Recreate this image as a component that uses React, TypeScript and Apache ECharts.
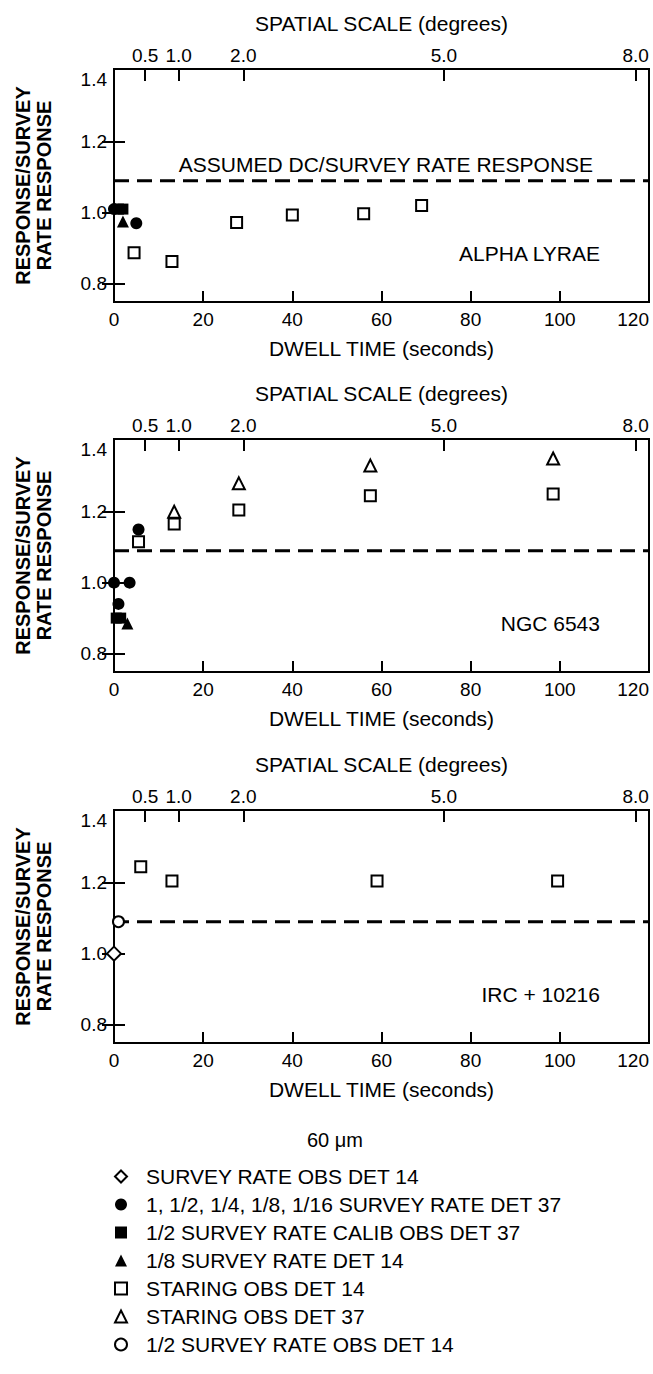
import React, { useEffect, useRef } from "react";
import * as echarts from "echarts";

// ---- axes / tick data ----
const dwellMin = 0;
const dwellMax = 120;
const dwellInterval = 20;
const spatialLabels = ["0.5", "1.0", "2.0", "5.0", "8.0"];
const spatialAtDwell = [7, 14.5, 29, 74, 117];
const yTickMarks = [0.8, 1.0, 1.2];
const yTickLabels = [0.8, 1.0, 1.2, 1.4];
const yMin = 0.748;
const yMax = 1.405;
const assumedLevel = 1.09;

// ---- legend names ----
const legendTitle = "60 μm";
const legendNames = [
  "SURVEY RATE OBS DET 14",
  "1, 1/2, 1/4, 1/8, 1/16 SURVEY RATE DET 37",
  "1/2 SURVEY RATE CALIB OBS DET 37",
  "1/8 SURVEY RATE DET 14",
  "STARING OBS DET 14",
  "STARING OBS DET 37",
  "1/2 SURVEY RATE OBS DET 14",
];

// ---- panel 1: ALPHA LYRAE ----
const p1FilledCircle = [[0, 1.01], [5, 0.97]];
const p1FilledSquare = [[1, 1.01], [2, 1.01]];
const p1FilledTriangle = [[2, 0.975]];
const p1OpenSquare = [[4.5, 0.887], [13, 0.862], [27.5, 0.972], [40, 0.993], [56, 0.997], [69, 1.02]];

// ---- panel 2: NGC 6543 ----
const p2FilledCircle = [[0, 1.0], [3.5, 1.0], [1, 0.94], [5.5, 1.15]];
const p2FilledSquare = [[0.5, 0.9], [1.5, 0.9]];
const p2FilledTriangle = [[3, 0.885]];
const p2OpenSquare = [[5.5, 1.115], [13.5, 1.165], [28, 1.205], [57.5, 1.245], [98.5, 1.25]];
const p2OpenTriangle = [[13.5, 1.2], [28, 1.28], [57.5, 1.33], [98.5, 1.35]];

// ---- panel 3: IRC + 10216 ----
const p3OpenDiamond = [[0, 1.0]];
const p3OpenCircle = [[1, 1.09]];
const p3OpenSquare = [[6, 1.245], [13, 1.205], [59, 1.205], [99.5, 1.205]];

const panelNames = ["ALPHA LYRAE", "NGC 6543", "IRC + 10216"];
const panelNamePos = [[109, 0.885], [109, 0.885], [109, 0.885]];
const assumedText = "ASSUMED DC/SURVEY RATE RESPONSE";
const assumedTextPos = [61, 1.137];

const FONT = "'Liberation Sans', Arial, Helvetica, sans-serif";

const styles: Record<string, any> = {
  [legendNames[0]]: { symbol: "diamond", size: 14, open: true },
  [legendNames[1]]: { symbol: "circle", size: 12, open: false },
  [legendNames[2]]: { symbol: "rect", size: 11, open: false },
  [legendNames[3]]: { symbol: "triangle", size: 12, open: false },
  [legendNames[4]]: { symbol: "rect", size: 11, open: true },
  [legendNames[5]]: { symbol: "triangle", size: 12, open: true },
  [legendNames[6]]: { symbol: "circle", size: 11, open: true },
};

const panelData: Array<Array<[string, number[][]]>> = [
  [
    [legendNames[4], p1OpenSquare],
    [legendNames[2], p1FilledSquare],
    [legendNames[3], p1FilledTriangle],
    [legendNames[1], p1FilledCircle],
  ],
  [
    [legendNames[4], p2OpenSquare],
    [legendNames[5], p2OpenTriangle],
    [legendNames[2], p2FilledSquare],
    [legendNames[3], p2FilledTriangle],
    [legendNames[1], p2FilledCircle],
  ],
  [
    [legendNames[4], p3OpenSquare],
    [legendNames[0], p3OpenDiamond],
    [legendNames[6], p3OpenCircle],
  ],
];

const gridRects = [
  { left: 114, top: 69, width: 535, height: 233 },
  { left: 114, top: 439, width: 535, height: 233 },
  { left: 114, top: 810, width: 535, height: 233 },
];

export default function App() {
  const ref = useRef<HTMLDivElement>(null);
  useEffect(() => {
    if (!ref.current) return;
    const chart = echarts.init(ref.current, null, { renderer: "svg" });
    const txt = { color: "#000", fontFamily: FONT, fontSize: 19 };
    const nameTxt = { color: "#000", fontFamily: FONT, fontSize: 21 };
    const grid = gridRects.map((g) => ({
      ...g,
      show: true,
      borderColor: "#000",
      borderWidth: 2,
      backgroundColor: "transparent",
      containLabel: false,
    }));
    const xAxis: any[] = [];
    const yAxis: any[] = [];
    gridRects.forEach((_, i) => {
      xAxis.push({
        gridIndex: i,
        type: "value",
        min: dwellMin,
        max: dwellMax,
        interval: dwellInterval,
        position: "bottom",
        axisLine: { show: false },
        axisTick: { inside: true, length: 11, lineStyle: { color: "#000", width: 2 } },
        splitLine: { show: false },
        axisLabel: { ...txt, margin: 8, alignMaxLabel: "right" },
        name: "DWELL TIME (seconds)",
        nameLocation: "middle",
        nameGap: 36,
        nameTextStyle: { ...nameTxt },
      });
      xAxis.push({
        gridIndex: i,
        type: "value",
        min: dwellMin,
        max: dwellMax,
        position: "top",
        axisLine: { show: false },
        axisTick: { inside: true, length: 12, customValues: spatialAtDwell, lineStyle: { color: "#000", width: 2 } },
        splitLine: { show: false },
        axisLabel: {
          ...txt,
          margin: 4,
          customValues: spatialAtDwell,
          formatter: (v: number) => {
            const k = spatialAtDwell.findIndex((d) => Math.abs(d - v) < 1e-6);
            return k >= 0 ? spatialLabels[k] : "";
          },
        },
        name: "SPATIAL SCALE (degrees)",
        nameLocation: "middle",
        nameGap: 35,
        nameTextStyle: { ...nameTxt },
      });
      yAxis.push({
        gridIndex: i,
        type: "value",
        min: yMin,
        max: yMax,
        position: "left",
        axisLine: { show: false },
        axisTick: { inside: true, length: 11, customValues: yTickMarks, lineStyle: { color: "#000", width: 2 } },
        splitLine: { show: false },
        axisLabel: {
          ...txt,
          margin: 7,
          customValues: yTickLabels,
          formatter: (v: number) => (v > 1.3 ? "{top|" + v.toFixed(1) + "}" : v.toFixed(1)),
          rich: { top: { ...txt, padding: [18, 0, 0, 0] } },
        },
        name: "RESPONSE/SURVEY\nRATE RESPONSE",
        nameLocation: "middle",
        nameRotate: 90,
        nameGap: 60,
        nameTextStyle: { ...nameTxt, fontSize: 20, fontWeight: "bold", lineHeight: 21 },
      });
      yAxis.push({
        gridIndex: i,
        type: "value",
        min: yMin,
        max: yMax,
        position: "right",
        axisLine: { show: false },
        axisTick: { inside: true, length: 12, customValues: yTickMarks, lineStyle: { color: "#000", width: 2 } },
        splitLine: { show: false },
        axisLabel: { show: false },
      });
    });

    const series: any[] = [];
    panelData.forEach((list, i) => {
      series.push({
        type: "line",
        xAxisIndex: i * 2,
        yAxisIndex: i * 2,
        data: [[dwellMin, assumedLevel], [dwellMax, assumedLevel]],
        symbol: "none",
        silent: true,
        lineStyle: { color: "#000", width: 3, type: [15, 8] },
        z: 1,
      });
      list.forEach(([name, data]) => {
        const s = styles[name];
        series.push({
          type: "scatter",
          name,
          xAxisIndex: i * 2,
          yAxisIndex: i * 2,
          data,
          symbol: s.symbol,
          symbolSize: s.size,
          itemStyle: s.open
            ? { color: "#fff", borderColor: "#000", borderWidth: 2, opacity: 1 }
            : { color: "#000", borderColor: "#000", borderWidth: 0, opacity: 1 },
          z: s.open ? 3 : 4,
        });
      });
    });

    chart.setOption({
      animation: false,
      backgroundColor: "#fff",
      grid,
      xAxis,
      yAxis,
      series,
      legend: {
        data: legendNames,
        orient: "vertical",
        left: 109,
        top: 1161,
        itemWidth: 12,
        itemHeight: 12,
        itemGap: 7,
        selectedMode: false,
        textStyle: { ...nameTxt, fontSize: 21, lineHeight: 21, padding: [0, 0, 0, 14] },
      },
    });

    const graphic: any[] = [];
    panelNames.forEach((n, i) => {
      const p = chart.convertToPixel({ xAxisIndex: i * 2, yAxisIndex: i * 2 } as any, panelNamePos[i]) as number[];
      graphic.push({
        type: "text",
        x: p[0],
        y: p[1],
        style: { text: n, ...nameTxt, fill: "#000", align: "right", verticalAlign: "middle" },
      });
    });
    const ap = chart.convertToPixel({ xAxisIndex: 0, yAxisIndex: 0 } as any, assumedTextPos) as number[];
    graphic.push({
      type: "text",
      x: ap[0],
      y: ap[1],
      style: { text: assumedText, ...nameTxt, fill: "#000", align: "center", verticalAlign: "middle" },
    });
    graphic.push({
      type: "text",
      x: 335,
      y: 1140,
      style: { text: legendTitle, ...nameTxt, fontSize: 20, fill: "#000", align: "center", verticalAlign: "middle" },
    });
    chart.setOption({ graphic });

    return () => chart.dispose();
  }, []);
  return (
    <div
      ref={ref}
      style={{ position: "absolute", left: 0, top: 0, width: 653, height: 1374, background: "#fff" }}
    />
  );
}
